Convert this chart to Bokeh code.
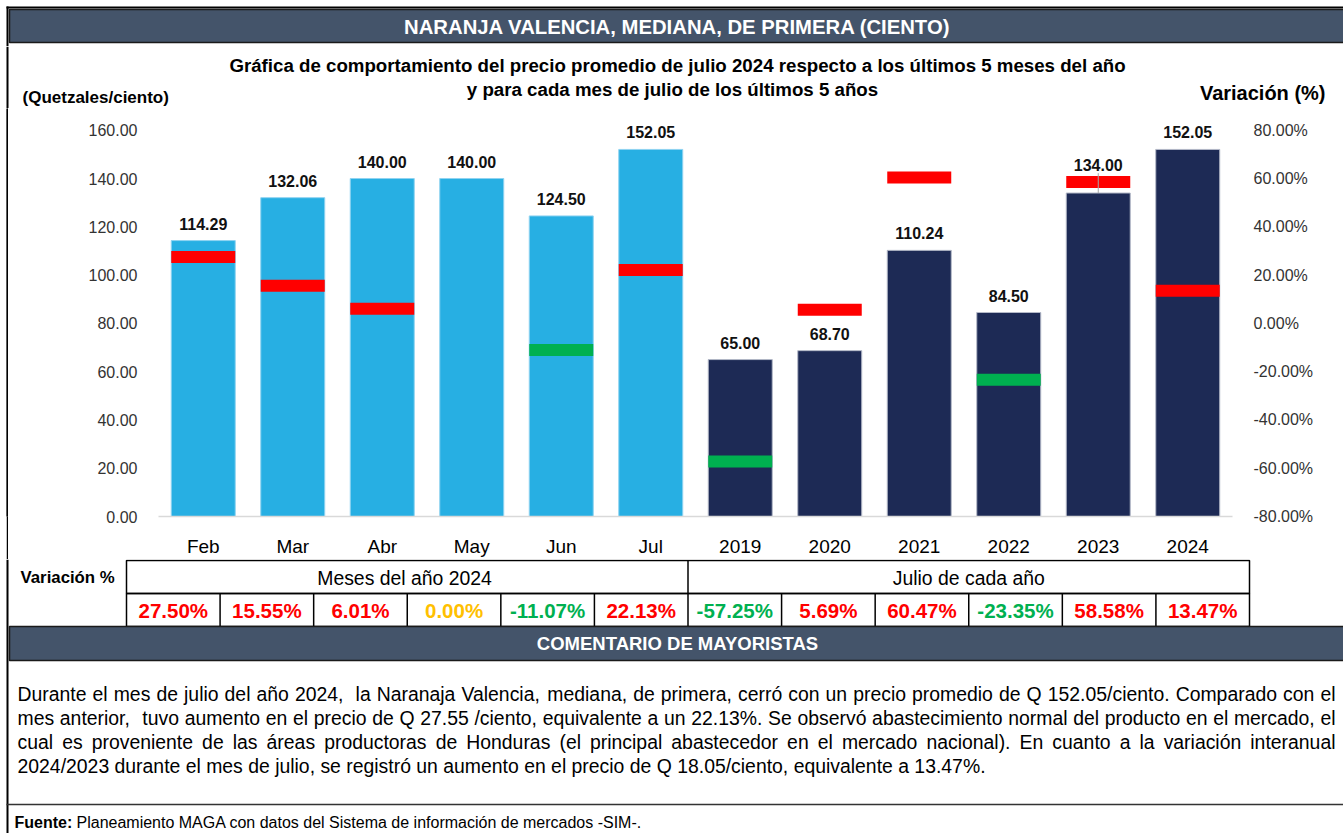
from bokeh.plotting import figure
from bokeh.models import (Range1d, FactorRange, LinearAxis, FixedTicker,
                          PrintfTickFormatter, ColumnDataSource, Spacer)
from bokeh.layouts import column, row
from bokeh.core.properties import value
from bokeh.embed import file_html
from bokeh.resources import INLINE

FONT = "Liberation Sans"

# ---------------- data ----------------
categories = ["Feb", "Mar", "Abr", "May", "Jun", "Jul",
              "2019", "2020", "2021", "2022", "2023", "2024"]
prices = [114.29, 132.06, 140.00, 140.00, 124.50, 152.05,
          65.00, 68.70, 110.24, 84.50, 134.00, 152.05]
variation = [27.50, 15.55, 6.01, 0.00, -11.07, 22.13,
             -57.25, 5.69, 60.47, -23.35, 58.58, 13.47]
group_labels = ["Meses del año  2024", "Julio de cada año"]
group_sizes = [6, 6]
price_ticks = [0, 20, 40, 60, 80, 100, 120, 140, 160]
variation_ticks = [-80, -60, -40, -20, 0, 20, 40, 60, 80]

header_text = "NARANJA VALENCIA, MEDIANA, DE PRIMERA (CIENTO)"
title_lines = ["Gráfica de comportamiento del precio promedio de julio 2024 respecto a los últimos 5 meses del año",
               "y para cada mes de julio de los últimos 5 años"]
left_axis_title = "(Quetzales/ciento)"
right_axis_title = "Variación (%)"
table_row_label = "Variación %"
comment_header = "COMENTARIO DE MAYORISTAS"
comment_lines = [
    "Durante el mes de julio del año 2024,  la Naranaja Valencia, mediana, de primera, cerró con un precio promedio de Q 152.05/ciento. Comparado con el",
    "mes anterior,  tuvo aumento en el precio de Q 27.55 /ciento, equivalente a un 22.13%. Se observó abastecimiento normal del producto en el mercado, el",
    "cual es proveniente de las áreas productoras de Honduras (el principal abastecedor en el mercado nacional). En cuanto a la variación interanual",
    "2024/2023 durante el mes de julio, se registró un aumento en el precio de Q 18.05/ciento, equivalente a 13.47%.",
]
source_label = "Fuente:"
source_text = "Planeamiento MAGA con datos del Sistema de información de mercados -SIM-."

# ---------------- styles ----------------
LIGHT = "#27AFE3"
LIGHT_EDGE = "#8FD3F1"
NAVY = "#1D2A55"
NAVY_EDGE = "#B4B9C8"
HEADER = "#44546A"
RED = "#FF0000"
GREEN = "#00B050"
YELLOW = "#FFC000"

# Arial / Liberation Sans advance widths (1/1000 em) used to justify the comment text
_AW = {" ": 278, ",": 278, ".": 278, "/": 278, "(": 333, ")": 333, "%": 889, "-": 333, ":": 278}
_AW.update({c: 556 for c in "0123456789"})
_AW.update(dict(zip("abcdefghijklmnopqrstuvwxyz",
                    [556, 556, 500, 556, 556, 278, 556, 556, 222, 222, 500, 222, 833,
                     556, 556, 556, 556, 333, 500, 278, 556, 500, 722, 500, 500, 500])))
_AW.update(dict(zip("ABCDEFGHIJKLMNOPQRSTUVWXYZ",
                    [667, 667, 722, 722, 667, 611, 778, 722, 278, 500, 667, 556, 833,
                     722, 778, 667, 778, 722, 667, 611, 722, 667, 944, 667, 667, 611])))
_AW.update({"á": 556, "é": 556, "í": 278, "ó": 556, "ú": 556, "ñ": 556})


def word_width(w, size):
    return sum(_AW.get(ch, 556) for ch in w) / 1000.0 * size


def var_color(v):
    return RED if v > 0 else (GREEN if v < 0 else YELLOW)


W = 1343
BORDER_X = 7


def deco(h, top):
    p = figure(width=W, height=h, x_range=Range1d(0, W), y_range=Range1d(top + h, top),
               x_axis_type=None, y_axis_type=None, output_backend="svg",
               toolbar_location=None, min_border=0)
    p.outline_line_color = None
    p.background_fill_color = "white"
    p.border_fill_color = "white"
    p.segment(x0=[BORDER_X], y0=[max(top, 6)], x1=[BORDER_X], y1=[top + h],
              line_color="black", line_width=2)
    return p


def txt(p, x, y, t, size, color="black", bold=False, align="left"):
    p.text(x=[x], y=[y], text=[t], text_font=value(FONT), text_font_size=size,
           text_font_style="bold" if bold else "normal", text_color=color,
           text_align=align, text_baseline="middle")


# ---------------- A: header bar ----------------
pa = deco(46, 0)
pa.segment(x0=[6], y0=[7], x1=[W], y1=[7], line_color="black", line_width=2)
pa.quad(left=[9], right=[W + 2], top=[9], bottom=[42], fill_color=HEADER,
        line_color="#1a1a1a", line_width=1.5)
txt(pa, 677, 26, header_text, "20.3px", "white", True, "center")

# ---------------- A2: chart titles ----------------
pt = deco(62, 46)
txt(pt, 677, 65, title_lines[0], "18.7px", bold=True, align="center")
txt(pt, 672, 89, title_lines[1], "18.7px", bold=True, align="center")
txt(pt, 22, 97, left_axis_title, "17px", bold=True)
txt(pt, 1325, 92, right_axis_title, "20px", bold=True, align="right")

# ---------------- B: chart ----------------
B_TOP, B_BOTTOM = 108, 559
HB = B_BOTTOM - B_TOP
BASE_Y, TOP_Y = 521, 130           # rows of 0 and 160 in the original
px_per_unit = (BASE_Y - TOP_Y) / price_ticks[-1]
MB_BOTTOM = B_BOTTOM - BASE_Y
y_top = (BASE_Y - B_TOP) / px_per_unit

# left border of the outer frame: white spacer + 2px black strip
strip = figure(width=2, height=HB, x_range=Range1d(0, 1), y_range=Range1d(0, 1),
               x_axis_type=None, y_axis_type=None, output_backend="svg",
               toolbar_location=None, min_border=0)
strip.outline_line_color = None
strip.background_fill_color = "black"
strip.border_fill_color = "black"
strip.quad(left=[0], right=[1], bottom=[0], top=[1], fill_color="black", line_color=None)
LEFT_PAD = BORDER_X - 1 + 2

FRAME_L, FRAME_R = 158, 1232
pb = figure(width=W - LEFT_PAD, height=HB, x_range=FactorRange(factors=categories),
            y_range=Range1d(0, y_top), y_axis_type=None, output_backend="svg",
            toolbar_location=None, min_border_left=FRAME_L - LEFT_PAD,
            min_border_right=W - FRAME_R, min_border_top=0, min_border_bottom=MB_BOTTOM)
pb.outline_line_color = None
pb.grid.visible = False
pb.background_fill_color = "white"
pb.border_fill_color = "white"
pb.extra_y_ranges = {"pct": Range1d(variation_ticks[0], variation_ticks[0] + y_top)}

left_ax = LinearAxis(ticker=FixedTicker(ticks=price_ticks),
                     formatter=PrintfTickFormatter(format="%.2f"))
right_ax = LinearAxis(y_range_name="pct", ticker=FixedTicker(ticks=variation_ticks),
                      formatter=PrintfTickFormatter(format="%.2f%%"))
pb.add_layout(left_ax, "left")
pb.add_layout(right_ax, "right")
for ax in (left_ax, right_ax):
    ax.axis_line_color = None
    ax.major_tick_line_color = None
    ax.minor_tick_line_color = None
    ax.major_label_text_font = FONT
    ax.major_label_text_font_size = "16px"
    ax.major_label_text_color = "#333333"
    ax.major_label_standoff = 15

xa = pb.xaxis[0]
xa.axis_line_color = "#D9D9D9"
xa.axis_line_width = 1.5
xa.major_tick_line_color = None
xa.minor_tick_line_color = None
xa.major_label_text_font = FONT
xa.major_label_text_font_size = "19px"
xa.major_label_text_color = "black"
xa.major_label_standoff = 13

n_first = group_sizes[0]
src = ColumnDataSource(dict(
    cat=categories,
    price=prices,
    var=variation,
    price_label=[f"{v:.2f}" for v in prices],
    bar_color=[LIGHT if i < n_first else NAVY for i in range(len(categories))],
    bar_line=[LIGHT_EDGE if i < n_first else NAVY_EDGE for i in range(len(categories))],
    mark_color=[var_color(v) for v in variation],
    mark_alpha=[0.0 if v == 0 else 1.0 for v in variation],
    label_dy=[-28 if c == "2023" else -17 for c in categories],
))

BAR_W = 0.715
pb.vbar(x="cat", top="price", bottom=0, width=BAR_W, source=src,
        fill_color="bar_color", line_color="bar_line", line_width=1)
pb.rect(x="cat", y="var", width=BAR_W, height=12, height_units="screen",
        y_range_name="pct", source=src, fill_color="mark_color",
        fill_alpha="mark_alpha", line_color=None)
# leader line of the moved 2023 data label
moved = [i for i, c in enumerate(categories) if c == "2023"]
pb.segment(x0=[categories[i] for i in moved], y0=[prices[i] for i in moved],
           x1=[categories[i] for i in moved], y1=[prices[i] + 20 / px_per_unit for i in moved],
           line_color="#A6A6A6", line_width=1)
pb.text(x="cat", y="price", text="price_label", y_offset="label_dy", source=src,
        text_font=value(FONT), text_font_size="16px", text_font_style="bold",
        text_color="#111111", text_align="center", text_baseline="middle")

chart_row = row(Spacer(width=BORDER_X - 1, height=HB), strip, pb)

# ---------------- C: table, comments, source ----------------
C_TOP = B_BOTTOM
pc = deco(833 - C_TOP, C_TOP)
txt(pc, 20, 577, table_row_label, "16.8px", bold=True)

TL, TR = 126, 1249
ROW1_T, ROW2_T, ROW2_B = 560, 593, 626
cell_w = (TR - TL) / len(categories)
pc.quad(left=[TL, TL], right=[TR, TR], top=[ROW1_T, ROW2_T], bottom=[ROW2_T, ROW2_B],
        fill_color=None, line_color="black", line_width=1.5)
start = 0
gx = []
for g, size in zip(group_labels, group_sizes):
    txt(pc, TL + (start + size / 2) * cell_w, 577, g, "19.4px", align="center")
    start += size
    if start < len(categories):
        gx.append(TL + start * cell_w)
pc.segment(x0=gx, y0=[ROW1_T] * len(gx), x1=gx, y1=[ROW2_T] * len(gx),
           line_color="black", line_width=1.5)
cx = [TL + i * cell_w for i in range(1, len(categories))]
pc.segment(x0=cx, y0=[ROW2_T] * len(cx), x1=cx, y1=[ROW2_B] * len(cx),
           line_color="black", line_width=1.5)
pc.text(x=[TL + (i + 0.5) * cell_w for i in range(len(categories))],
        y=[(ROW2_T + ROW2_B) / 2] * len(categories),
        text=[f"{v:.2f}%" for v in variation],
        text_color=[var_color(v) for v in variation],
        text_font=value(FONT), text_font_size="20.5px", text_font_style="bold",
        text_align="center", text_baseline="middle")

# comment header
pc.quad(left=[9], right=[W + 2], top=[626], bottom=[660], fill_color=HEADER,
        line_color="#1a1a1a", line_width=1.5)
txt(pc, 677, 643, comment_header, "18.5px", "white", True, "center")

# justified comment paragraph (last line left-aligned)
C_SIZE = 19.4
C_LEFT, C_RIGHT = 17, 1335
for i, line in enumerate(comment_lines):
    y = 693 + 24 * i
    if i == len(comment_lines) - 1:
        txt(pc, C_LEFT, y, line, f"{C_SIZE}px")
        continue
    parts = line.split(" ")
    widths = [word_width(w, C_SIZE) for w in parts]
    gap = (C_RIGHT - C_LEFT - sum(widths)) / (len(parts) - 1)
    xs, ws = [], []
    x = C_LEFT
    for w, wd in zip(parts, widths):
        if w:
            xs.append(x)
            ws.append(w)
        x += wd + gap
    pc.text(x=xs, y=[y] * len(xs), text=ws, text_font=value(FONT),
            text_font_size=f"{C_SIZE}px", text_color="black",
            text_align="left", text_baseline="middle")

pc.segment(x0=[6], y0=[804], x1=[W], y1=[804], line_color="#333333", line_width=1.5)
txt(pc, 14, 822, source_label, "16px", bold=True)
txt(pc, 76, 822, source_text, "16px")

layout = column(pa, pt, chart_row, pc)
open("out.html", "w").write(file_html(layout, INLINE))
